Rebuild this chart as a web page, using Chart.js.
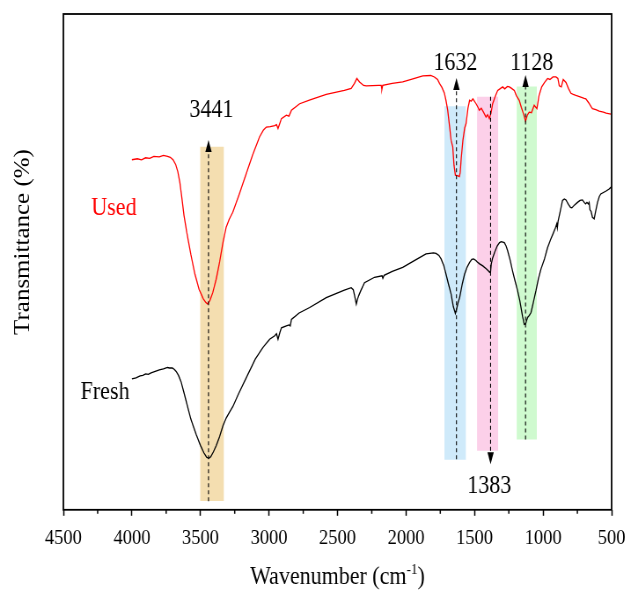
<!DOCTYPE html>
<html>
<head>
<meta charset="utf-8">
<script src="https://cdn.jsdelivr.net/npm/chart.js@4.4.1/dist/chart.umd.min.js"></script>
<style>
  html, body { margin: 0; padding: 0; background: #fff; overflow: hidden; }
  /* the figure is laid out wide and narrowed horizontally, like the exported plot */
  #wrap { width: 714px; height: 592px; transform: scaleX(0.88); transform-origin: 0 0; }
</style>
</head>
<body>
<div id="wrap"><canvas id="ftir" width="714" height="592"></canvas></div>
<script>
// FTIR spectra of the catalyst, stacked (transmittance offset, arbitrary units)
const usedWn = [4000, 3960, 3930, 3900, 3870, 3840, 3800, 3770, 3740, 3720, 3700, 3680, 3665, 3650, 3635, 3620, 3600, 3570, 3540, 3510, 3480, 3460, 3447, 3430, 3410, 3385, 3360, 3335, 3312, 3290, 3264, 3220, 3166, 3120, 3069, 3040, 3019, 2990, 2958, 2945, 2934, 2920, 2909, 2873, 2854, 2836, 2776, 2700, 2582, 2450, 2400, 2376, 2359, 2339, 2310, 2290, 2200, 2181, 2176, 2170, 2100, 2024, 1950, 1878, 1820, 1793, 1770, 1756, 1738, 1720, 1708, 1696, 1683, 1671, 1659, 1650, 1640, 1625, 1611, 1605, 1597, 1585, 1572, 1562, 1548, 1536, 1525, 1512, 1489, 1475, 1465, 1451, 1435, 1416, 1405, 1392, 1380, 1368, 1350, 1331, 1310, 1295, 1280, 1260, 1246, 1230, 1210, 1196, 1174, 1159, 1140, 1128, 1115, 1101, 1085, 1065, 1045, 1030, 1010, 989, 967, 950, 928, 906, 892, 882, 867, 853, 833, 815, 797, 780, 761, 740, 720, 700, 688, 665, 650, 640, 615, 591, 560, 540, 505];
const usedT = [70.6, 70.8, 70.6, 71.0, 70.9, 71.3, 71.2, 71.5, 71.3, 71.1, 70.6, 69.6, 68.2, 66.0, 62.8, 59.4, 56.0, 51.5, 47.5, 44.5, 42.6, 41.8, 41.5, 42.3, 43.8, 46.5, 50.0, 54.0, 57.0, 58.6, 60.0, 63.4, 67.8, 71.5, 75.2, 76.6, 77.2, 77.3, 77.5, 77.7, 76.9, 78.0, 78.9, 79.6, 79.4, 80.6, 81.9, 82.7, 83.8, 84.6, 85.0, 86.0, 87.0, 86.3, 85.6, 85.5, 85.6, 85.6, 84.8, 85.6, 86.0, 86.3, 86.9, 87.5, 87.6, 87.3, 86.8, 86.0, 85.2, 84.0, 82.5, 80.6, 77.5, 74.5, 73.2, 69.5, 67.5, 67.4, 67.2, 68.0, 71.0, 74.5, 77.0, 77.9, 81.0, 82.6, 82.4, 82.9, 81.9, 81.2, 80.6, 81.0, 80.2, 79.2, 79.7, 78.9, 80.0, 81.9, 83.3, 84.6, 85.0, 85.3, 84.9, 85.4, 85.3, 85.0, 84.6, 83.6, 82.6, 81.2, 79.6, 78.4, 79.6, 80.2, 80.1, 81.6, 80.9, 83.5, 85.3, 86.2, 87.0, 86.8, 87.3, 87.3, 87.0, 85.5, 85.3, 86.8, 86.2, 85.0, 84.0, 83.8, 83.6, 83.4, 83.2, 83.0, 82.9, 82.0, 81.3, 80.9, 80.7, 80.4, 80.2, 80.0, 79.8];

const freshWn = [4000, 3970, 3940, 3920, 3900, 3880, 3860, 3830, 3800, 3770, 3740, 3726, 3705, 3690, 3677, 3660, 3641, 3620, 3604, 3570, 3531, 3500, 3475, 3455, 3439, 3425, 3405, 3385, 3360, 3335, 3312, 3290, 3264, 3220, 3166, 3100, 3045, 2995, 2958, 2945, 2934, 2920, 2909, 2873, 2854, 2845, 2836, 2780, 2703, 2582, 2450, 2400, 2385, 2376, 2363, 2355, 2345, 2330, 2303, 2230, 2175, 2169, 2160, 2100, 2024, 1930, 1854, 1800, 1781, 1760, 1744, 1725, 1708, 1690, 1671, 1655, 1640, 1630, 1620, 1609, 1590, 1573, 1555, 1536, 1520, 1507, 1490, 1480, 1463, 1440, 1415, 1400, 1390, 1383, 1378, 1368, 1354, 1335, 1318, 1305, 1283, 1270, 1259, 1240, 1223, 1205, 1186, 1170, 1161, 1150, 1137, 1128, 1120, 1113, 1100, 1088, 1070, 1052, 1035, 1015, 990, 967, 945, 927, 910, 900, 896, 890, 875, 858, 845, 833, 815, 800, 790, 770, 749, 730, 713, 700, 690, 680, 670, 664, 658, 650, 640, 627, 618, 603, 590, 579, 560, 540, 518, 500];
const freshT = [26.4, 26.6, 27.0, 27.1, 27.4, 27.3, 27.6, 27.9, 28.2, 28.4, 28.7, 28.6, 28.6, 28.3, 27.9, 27.1, 25.8, 23.6, 21.9, 18.3, 15.2, 13.0, 11.5, 10.6, 10.4, 10.7, 11.7, 12.9, 14.8, 17.0, 18.5, 19.6, 20.8, 23.5, 26.6, 30.4, 32.7, 34.4, 35.1, 35.5, 34.4, 35.8, 36.7, 37.1, 37.3, 37.1, 38.4, 39.7, 40.8, 42.8, 44.3, 44.8, 44.4, 43.3, 41.5, 42.4, 43.2, 44.2, 45.8, 46.9, 47.2, 46.7, 47.3, 48.1, 48.9, 50.4, 51.6, 51.8, 51.7, 51.3, 50.6, 49.3, 47.5, 45.5, 43.5, 41.0, 39.6, 40.6, 41.8, 42.8, 45.5, 47.5, 48.9, 49.9, 50.5, 50.6, 50.3, 50.0, 49.6, 49.2, 48.6, 48.2, 47.9, 48.1, 49.6, 50.8, 51.9, 53.2, 53.9, 54.1, 53.9, 53.2, 52.3, 50.3, 48.2, 46.2, 44.2, 42.2, 40.8, 39.0, 37.4, 37.5, 38.2, 38.8, 39.2, 39.8, 42.0, 44.2, 46.5, 48.6, 50.6, 52.9, 54.5, 55.7, 56.9, 57.7, 56.9, 58.3, 60.2, 62.4, 62.7, 62.5, 61.6, 61.0, 60.9, 61.5, 62.0, 62.4, 62.5, 62.0, 61.7, 62.0, 61.7, 62.0, 60.5, 60.2, 59.0, 58.7, 60.0, 62.0, 63.2, 63.7, 64.0, 64.3, 64.7, 65.2];

// assigned bands (cm-1)
const peakWn = [3441, 1632, 1383, 1128];
const peakText = ['3441', '1632', '1383', '1128'];
const bandFrom = [3503, 1720, 1482, 1193];
const bandTo = [3328, 1562, 1327, 1045];

const xMajor = [4500, 4000, 3500, 3000, 2500, 2000, 1500, 1000, 500];
const xMinor = [4250, 3750, 3250, 2750, 2250, 1750, 1250, 750];

const SERIF = '"Liberation Serif", "Times New Roman", serif';
Chart.defaults.font.family = SERIF;
Chart.defaults.color = '#000';

// band highlight layout: vertical extent in axis units
const bandTop = [73.2, 81.4, 83.3, 85.4];
const bandBottom = [1.8, 10.1, 11.9, 14.2];
const bandFill = ['rgba(243,220,172,0.95)', 'rgba(204,233,250,0.95)', 'rgba(252,205,232,0.95)', 'rgba(204,250,204,0.95)'];

const toPoints = (xs, ys) => xs.map((x, i) => ({ x, y: ys[i] }));

const bandSets = peakWn.map((_, i) => ({
  label: 'band ' + peakText[i],
  data: [{ x: bandFrom[i], y: bandTop[i] }, { x: bandTo[i], y: bandTop[i] }],
  borderWidth: 0,
  pointRadius: 0,
  backgroundColor: bandFill[i],
  fill: { value: bandBottom[i] },
  order: 5
}));

const decor = {
  id: 'decor',
  afterDatasetsDraw(chart, args, opts) {
    const { ctx, scales: { x, y } } = chart;
    ctx.save();
    ctx.strokeStyle = '#000';
    ctx.fillStyle = '#000';
    peakWn.forEach((wn, i) => {
      const m = opts.arrows[i];
      const px = x.getPixelForValue(wn);
      const y0 = y.getPixelForValue(m.from);
      const yTip = y.getPixelForValue(m.tip);
      const dir = Math.sign(yTip - y0);
      ctx.lineWidth = 1.1;
      ctx.setLineDash([4, 3]);
      ctx.beginPath();
      ctx.moveTo(px, y0);
      ctx.lineTo(px, yTip - dir * 10);
      ctx.stroke();
      ctx.setLineDash([]);
      ctx.beginPath();
      ctx.moveTo(px, yTip);
      ctx.lineTo(px - 3.6, yTip - dir * 12);
      ctx.lineTo(px + 3.6, yTip - dir * 12);
      ctx.closePath();
      ctx.fill();

      ctx.font = '25px ' + SERIF;
      ctx.textAlign = 'center';
      ctx.textBaseline = 'alphabetic';
      ctx.fillText(peakText[i], px + m.dx, y.getPixelForValue(m.textY));
    });

    // curve names
    ctx.font = '25px ' + SERIF;
    ctx.textAlign = 'center';
    opts.names.forEach(n => {
      ctx.fillStyle = n.color;
      ctx.fillText(n.text, x.getPixelForValue(n.x), y.getPixelForValue(n.y));
    });
    ctx.restore();
  },
  afterDraw(chart) {
    const { ctx, chartArea: a, scales: { x } } = chart;
    ctx.save();
    // frame
    ctx.strokeStyle = '#000';
    ctx.lineWidth = 1.8;
    ctx.strokeRect(a.left, a.top, a.right - a.left, a.bottom - a.top);

    // minor ticks
    ctx.lineWidth = 1.5;
    xMinor.forEach(v => {
      const px = x.getPixelForValue(v);
      ctx.beginPath();
      ctx.moveTo(px, a.bottom);
      ctx.lineTo(px, a.bottom + 4);
      ctx.stroke();
    });

    // x title with superscript
    ctx.fillStyle = '#000';
    ctx.textBaseline = 'alphabetic';
    ctx.textAlign = 'left';
    const big = '25px ' + SERIF, small = '15px ' + SERIF;
    const t1 = 'Wavenumber (cm', t2 = '-1', t3 = ')';
    ctx.font = big;
    const w1 = ctx.measureText(t1).width, w3 = ctx.measureText(t3).width;
    ctx.font = small;
    const w2 = ctx.measureText(t2).width;
    let tx = (a.left + a.right) / 2 - (w1 + w2 + w3) / 2;
    const base = 584;
    ctx.font = big;
    ctx.fillText(t1, tx, base);
    tx += w1;
    ctx.font = small;
    ctx.fillText(t2, tx, base - 10);
    tx += w2;
    ctx.font = big;
    ctx.fillText(t3, tx, base);

    // y title
    ctx.translate(26, 242);
    ctx.rotate(-Math.PI / 2);
    ctx.textAlign = 'center';
    ctx.textBaseline = 'middle';
    ctx.fillText('Transmittance (%)', 0, 0);
    ctx.restore();
  }
};

new Chart(document.getElementById('ftir'), {
  type: 'line',
  data: {
    datasets: [
      {
        label: 'Used',
        data: toPoints(usedWn, usedT),
        borderColor: '#ff0000',
        borderWidth: 1.3,
        pointRadius: 0,
        tension: 0,
        order: 1
      },
      {
        label: 'Fresh',
        data: toPoints(freshWn, freshT),
        borderColor: '#000000',
        borderWidth: 1.3,
        pointRadius: 0,
        tension: 0,
        order: 1
      },
      ...bandSets
    ]
  },
  options: {
    responsive: false,
    animation: false,
    events: [],
    layout: { padding: { left: 72, right: 19, top: 14, bottom: 31 } },
    plugins: {
      legend: { display: false },
      tooltip: { enabled: false },
      decor: {
        arrows: [
          { from: 1.7, tip: 74.6, textY: 79.2, dx: 3.4 },
          { from: 10.2, tip: 87.1, textY: 88.7, dx: -1.2 },
          { from: 83.3, tip: 9.2, textY: 3.4, dx: -1.5 },
          { from: 14.2, tip: 87.7, textY: 88.7, dx: 7 }
        ],
        names: [
          { text: 'Used', x: 4131, y: 59.5, color: '#ff0000' },
          { text: 'Fresh', x: 4196, y: 22.3, color: '#000000' }
        ]
      }
    },
    scales: {
      x: {
        type: 'linear',
        reverse: true,
        min: 500,
        max: 4500,
        afterBuildTicks: scale => { scale.ticks = xMajor.map(value => ({ value })); },
        // end labels may overhang the frame; keep the plot edges where the layout puts them
        afterFit: scale => { scale.paddingLeft = 0; scale.paddingRight = 0; },
        ticks: {
          font: { size: 21 },
          color: '#000',
          padding: 10,
          maxRotation: 0,
          callback: v => String(v)
        },
        grid: {
          drawOnChartArea: false,
          drawTicks: true,
          tickLength: 6,
          tickWidth: 1.5,
          tickColor: '#000'
        },
        border: { display: false }
      },
      y: {
        display: false,
        min: 0,
        max: 100
      }
    }
  },
  plugins: [decor]
});
</script>
</body>
</html>
